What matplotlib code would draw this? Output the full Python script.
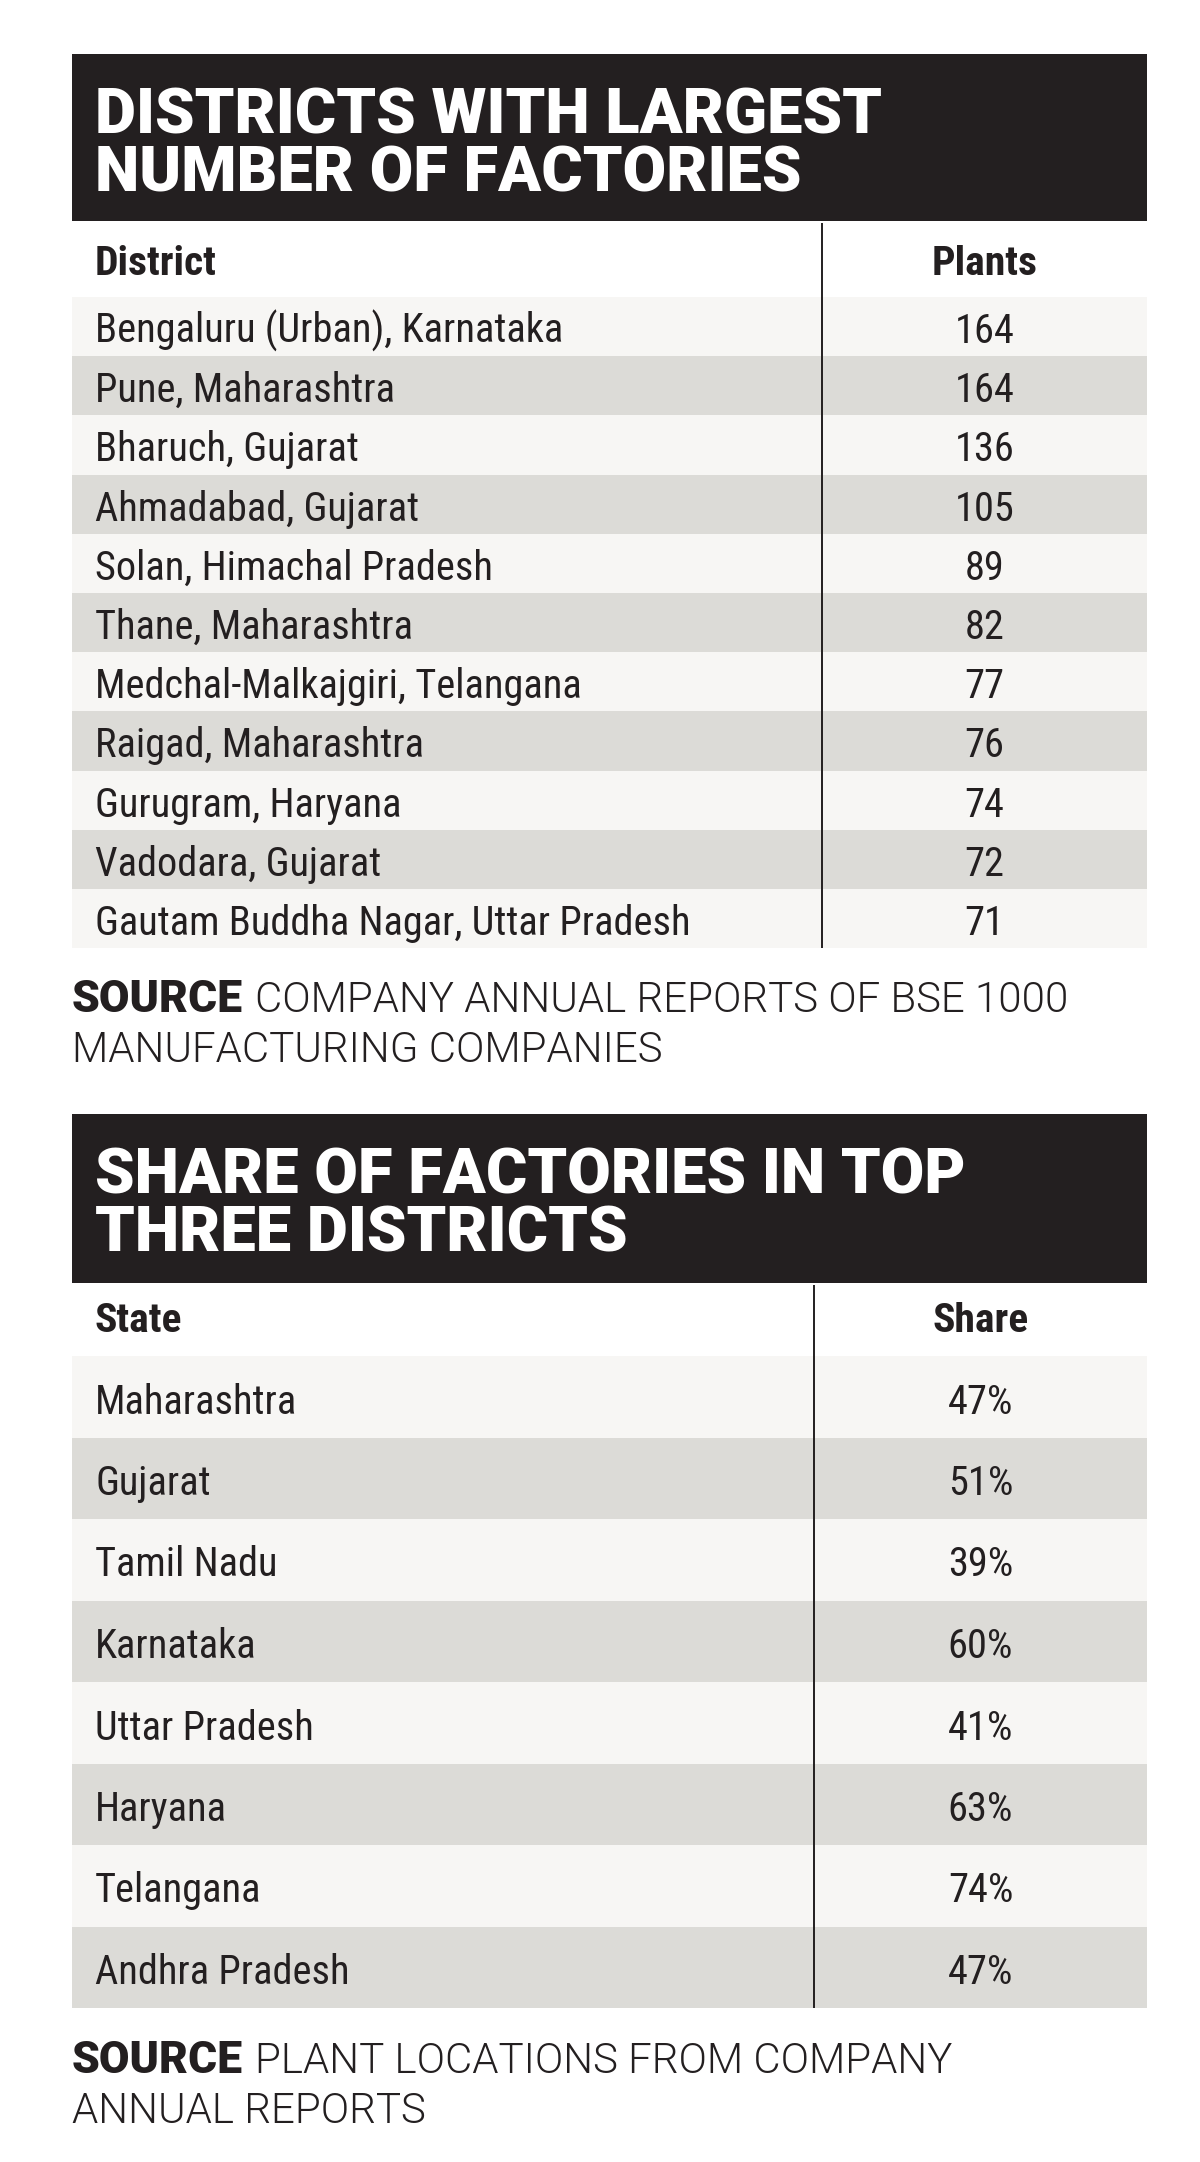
import matplotlib
matplotlib.use('Agg')
import matplotlib.pyplot as plt
from matplotlib import font_manager as fm
from matplotlib.patches import Rectangle

# ---- data ----
districts = ['Bengaluru (Urban), Karnataka', 'Pune, Maharashtra', 'Bharuch, Gujarat',
             'Ahmadabad, Gujarat', 'Solan, Himachal Pradesh', 'Thane, Maharashtra',
             'Medchal-Malkajgiri, Telangana', 'Raigad, Maharashtra', 'Gurugram, Haryana',
             'Vadodara, Gujarat', 'Gautam Buddha Nagar, Uttar Pradesh']
plants = [164, 164, 136, 105, 89, 82, 77, 76, 74, 72, 71]

states = ['Maharashtra', 'Gujarat', 'Tamil Nadu', 'Karnataka', 'Uttar Pradesh',
          'Haryana', 'Telangana', 'Andhra Pradesh']
shares = [47, 51, 39, 60, 41, 63, 74, 47]

title1 = ['DISTRICTS WITH LARGEST', 'NUMBER OF FACTORIES']
title2 = ['SHARE OF FACTORIES IN TOP', 'THREE DISTRICTS']
source1 = ['COMPANY ANNUAL REPORTS OF BSE 1000', 'MANUFACTURING COMPANIES']
source2 = ['PLANT LOCATIONS FROM COMPANY', 'ANNUAL REPORTS']

# ---- style ----
W, H = 1200, 2162
DARK = '#231f20'
LIGHT_ROW = '#f7f6f4'
GREY_ROW = '#dcdbd7'


def wnum(w):
    names = {'thin': 100, 'extra light': 200, 'ultralight': 200, 'light': 300,
             'normal': 400, 'regular': 400, 'book': 400, 'medium': 500,
             'semibold': 600, 'demibold': 600, 'bold': 700, 'extra bold': 800,
             'heavy': 900, 'black': 900}
    return w if isinstance(w, int) else names.get(str(w).lower(), 400)


def pick(cands):
    """first installed (family, stretch, weight) among candidates"""
    for fam, stretch, wmin, wmax in cands:
        for f in fm.fontManager.ttflist:
            if f.name != fam or f.style != 'normal':
                continue
            if stretch is not None and f.stretch != stretch:
                continue
            if wmin <= wnum(f.weight) <= wmax:
                return dict(family=fam, fontstretch=f.stretch, fontweight=wnum(f.weight))
    return None


HEAVY = pick([('Roboto Black', None, 800, 1000), ('Roboto', None, 850, 1000),
              ('Lato Black', None, 800, 1000), ('Lato', None, 850, 1000),
              ('Inter Black', None, 800, 1000), ('Inter', None, 850, 1000),
              ('Open Sans ExtraBold', None, 750, 1000), ('Open Sans', None, 750, 1000),
              ('Roboto', None, 700, 1000)]) or dict(family='DejaVu Sans', fontweight='bold')

cond_cands = [('Roboto Condensed', None), ('Liberation Sans Narrow', None),
              ('Open Sans Condensed', None), ('Noto Sans Condensed', None),
              ('Noto Sans', 'condensed'), ('Open Sans', 'condensed'),
              ('Roboto', 'condensed'), ('DejaVu Sans', 'condensed'),
              ('Noto Sans SemiCondensed', None), ('Open Sans SemiCondensed', None),
              ('Noto Sans', 'semi-condensed'), ('Open Sans', 'semi-condensed')]
BODY = pick([(f, s, 350, 450) for f, s in cond_cands]) or \
    dict(family='Roboto', fontweight=400)
BODY_B = pick([(f, s, 650, 1000) for f, s in cond_cands]) or \
    dict(family='Roboto', fontweight=700)
LIGHT = pick([('Roboto Light', None, 250, 350), ('Roboto', None, 280, 320),
              ('Lato', None, 280, 320), ('Roboto', None, 350, 450)]) or \
    dict(family='DejaVu Sans', fontweight='normal')

fig = plt.figure(figsize=(W / 100, H / 100), dpi=100)
ax = fig.add_axes([0, 0, 1, 1])
ax.set_xlim(0, W)
ax.set_ylim(H, 0)
ax.axis('off')
renderer = fig.canvas.get_renderer()


def fit(s, font, target):
    t = ax.text(0, 0, s, fontsize=10, **font)
    w = t.get_window_extent(renderer).width
    t.remove()
    return 10 * target / w


LEFT, RIGHT = 72, 1147
TXT_X = 95

FS_TITLE = fit(title1[0], HEAVY, 784)
FS_BODY = fit(districts[-1], BODY, 593)
FS_HEAD = fit('District', BODY_B, 122)
FS_SRC_B = fit('SOURCE', HEAVY, 171)
FS_SRC = fit(source1[0], LIGHT, 811)


def draw_table(top, head_h, title, col_names, labels, values, fmt, div_x,
               head_row_h, row_h, head_base, row_base):
    # black title block
    ax.add_patch(Rectangle((LEFT, top), RIGHT - LEFT, head_h, color=DARK, lw=0))
    for k, line in enumerate(title):
        ax.text(TXT_X, top + 79 + k * 58.5, line, color='white', fontsize=FS_TITLE,
                va='baseline', **HEAVY)
    htop = top + head_h
    ax.text(TXT_X, htop + head_base, col_names[0], color=DARK, fontsize=FS_HEAD,
            va='baseline', **BODY_B)
    ax.text((div_x + RIGHT) / 2, htop + head_base, col_names[1], color=DARK,
            fontsize=FS_HEAD, va='baseline', ha='center', **BODY_B)
    body_top = htop + head_row_h
    for i, (lab, val) in enumerate(zip(labels, values)):
        y0 = body_top + i * row_h
        ax.add_patch(Rectangle((LEFT, y0), RIGHT - LEFT, row_h,
                               color=LIGHT_ROW if i % 2 == 0 else GREY_ROW, lw=0))
        ax.text(TXT_X, y0 + row_base, lab, color=DARK, fontsize=FS_BODY,
                va='baseline', **BODY)
        ax.text((div_x + RIGHT) / 2, y0 + row_base, fmt(val), color=DARK,
                fontsize=FS_BODY, va='baseline', ha='center', **BODY)
    bottom = body_top + len(labels) * row_h
    ax.plot([div_x, div_x], [htop + 2, bottom], color=DARK, lw=1.4,
            solid_capstyle='butt')
    return bottom


def draw_source(y, lines):
    t = ax.text(LEFT, y, 'SOURCE', color=DARK, fontsize=FS_SRC_B,
                va='baseline', **HEAVY)
    w = t.get_window_extent(renderer).width
    ax.text(LEFT + w + 12, y, lines[0], color=DARK, fontsize=FS_SRC,
            va='baseline', **LIGHT)
    ax.text(LEFT, y + 50, lines[1], color=DARK, fontsize=FS_SRC,
            va='baseline', **LIGHT)


draw_table(54, 167, title1, ['District', 'Plants'], districts, plants,
           lambda v: f'{v}', 822, 76, 59.2, 54, 46)
draw_source(1012, source1)

draw_table(1114, 169, title2, ['State', 'Share'], states, shares,
           lambda v: f'{v}%', 814, 73, 81.5, 49, 57.5)
draw_source(2073, source2)

fig.savefig('out.png', dpi=100, facecolor='white')
